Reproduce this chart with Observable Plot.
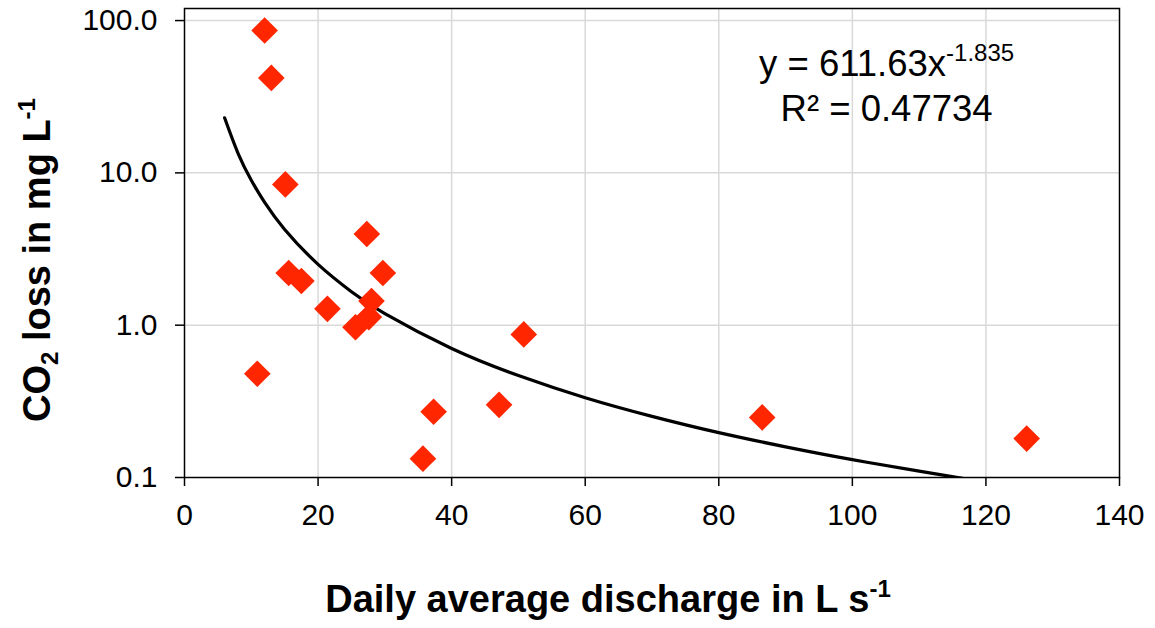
<!DOCTYPE html>
<html>
<head>
<meta charset="utf-8">
<script src="https://cdn.jsdelivr.net/npm/d3@7"></script>
<script src="https://cdn.jsdelivr.net/npm/@observablehq/plot@0.6"></script>
<style>
  html, body { margin: 0; padding: 0; background: #fff; }
  #chart svg { display: block; }
</style>
</head>
<body>
<div id="chart"></div>
<script>
const discharge = [12.0, 13.0, 15.1, 27.3, 15.6, 17.5, 29.7, 21.4, 28.0, 27.6, 25.6, 50.8, 10.9, 37.3, 47.1, 35.7, 86.5, 126.1];
const co2Loss   = [86.0, 42.0, 8.4, 3.97, 2.2, 1.95, 2.2, 1.28, 1.44, 1.13, 0.97, 0.87, 0.48, 0.27, 0.30, 0.133, 0.248, 0.18];

// Power trend line as drawn
const trendX = [6, 8, 10, 12, 15, 20, 25, 30, 40, 50, 60, 70, 80, 90, 100, 110, 116.5];
const trendY = [23.0, 13.5, 8.94, 6.40, 4.25, 2.51, 1.66, 1.19, 0.703, 0.467, 0.334, 0.252, 0.197, 0.159, 0.131, 0.110, 0.0987];

// Axis ticks
const xTicks = [0, 20, 40, 60, 80, 100, 120, 140];
const yTicks = [0.1, 1, 10, 100];
const xGrid = [20, 40, 60, 80, 100, 120];
const yGrid = [1, 10, 100];

const points = discharge.map((d, i) => ({x: d, y: co2Loss[i]}));
const trend = trendX.map((d, i) => ({x: d, y: trendY[i]}));

const FONT = "'Liberation Sans', Arial, sans-serif";

const plot = Plot.plot({
  width: 1155,
  height: 628,
  marginLeft: 184,
  marginRight: 36,
  marginTop: 8,
  marginBottom: 151,
  style: {fontFamily: FONT, background: "#fff", overflow: "visible"},
  x: {domain: [0, 140]},
  y: {type: "log", domain: [0.1, 120]},
  marks: [
    Plot.ruleX(xGrid, {stroke: "#d9d9d9", strokeWidth: 1.5}),
    Plot.ruleY(yGrid, {stroke: "#d9d9d9", strokeWidth: 1.5}),
    Plot.line(trend, {x: "x", y: "y", stroke: "black", strokeWidth: 3.2, curve: "natural", clip: true}),
    Plot.dot(points, {x: "x", y: "y", symbol: "diamond2", r: 12, fill: "#ff2600", stroke: "none"}),
    Plot.frame({stroke: "black", strokeWidth: 1.5}),
    Plot.axisX(xTicks, {tickSize: 9, tickPadding: 17, fontSize: 30, stroke: "black", strokeWidth: 1.5, fill: "black", label: null}),
    Plot.axisY(yTicks, {tickSize: 9, tickPadding: 18, fontSize: 30, stroke: "black", strokeWidth: 1.5, fill: "black", tickFormat: d3.format(".1f"), label: null})
  ]
});

document.getElementById("chart").appendChild(plot);

const svg = d3.select(plot);
const sx = plot.scale("x"), sy = plot.scale("y");

// X axis title
const xt = svg.append("text")
  .attr("x", 608).attr("y", 612)
  .attr("text-anchor", "middle")
  .attr("font-family", FONT).attr("font-weight", "bold").attr("font-size", 38)
  .attr("fill", "black");
xt.append("tspan").text("Daily average discharge in L s");
xt.append("tspan").attr("font-size", 24).attr("dy", -15).text("-1");

// Y axis title
const yt = svg.append("text")
  .attr("transform", "translate(50,260) rotate(-90)")
  .attr("text-anchor", "middle")
  .attr("font-family", FONT).attr("font-weight", "bold").attr("font-size", 38)
  .attr("fill", "black");
yt.append("tspan").text("CO");
yt.append("tspan").attr("font-size", 24).attr("dy", 8).text("2");
yt.append("tspan").attr("dy", -8).text(" loss in mg L");
yt.append("tspan").attr("font-size", 24).attr("dy", -15).text("-1");

// Trend equation annotation
const eqX = sx.apply(105.2);
const eq1 = svg.append("text")
  .attr("x", eqX).attr("y", sy.apply(43))
  .attr("text-anchor", "middle")
  .attr("font-family", FONT).attr("font-size", 36.5).attr("fill", "black");
eq1.append("tspan").text("y = 611.63x");
eq1.append("tspan").attr("font-size", 24).attr("dy", -15).text("-1.835");
svg.append("text")
  .attr("x", eqX).attr("y", sy.apply(21.7))
  .attr("text-anchor", "middle")
  .attr("font-family", FONT).attr("font-size", 36.5).attr("fill", "black")
  .text("R² = 0.47734");
</script>
</body>
</html>
